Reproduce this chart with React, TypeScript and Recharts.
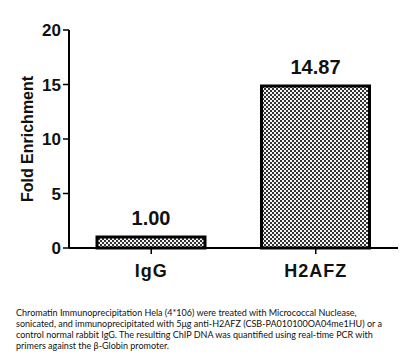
import React from "react";
import { Bar, BarChart, LabelList, XAxis, YAxis } from "recharts";

const categories = ["IgG", "H2AFZ"];
const foldEnrichment = [1.0, 14.87];
const yTicks = [0, 5, 10, 15, 20];
const captionLines = [
  "Chromatin Immunoprecipitation Hela (4*106) were treated with Micrococcal Nuclease,",
  "sonicated, and immunoprecipitated with 5\u03bcg anti-H2AFZ (CSB-PA010100OA04me1HU) or a",
  "control normal rabbit IgG. The resulting ChIP DNA was quantified using real-time PCR with",
  "primers against the \u03b2-Globin promoter.",
];

const AXIS_FONT = "'Liberation Sans', Arial, sans-serif";

const data = categories.map((name, i) => ({ name, value: foldEnrichment[i] }));

export default function App() {
  return (
    <div style={{ position: "absolute", left: 0, top: 0, width: 409, height: 360, background: "#fff" }}>
      <BarChart width={409} height={290} data={data} margin={{ top: 30, right: 11, left: 19, bottom: 12 }}>
        <defs>
          <pattern id="checker" width="4" height="4" patternUnits="userSpaceOnUse">
            <rect width="4" height="4" fill="#f4f4f4" />
            <rect x="0" y="0" width="2" height="2" fill="#333" />
            <rect x="2" y="2" width="2" height="2" fill="#333" />
          </pattern>
        </defs>
        <XAxis
          dataKey="name"
          axisLine={{ stroke: "#000", strokeWidth: 2 }}
          tickLine={{ stroke: "#000", strokeWidth: 1.5 }}
          tickSize={6}
          height={30}
          tick={{ fill: "#111", fontSize: 18, fontWeight: 700, fontFamily: AXIS_FONT, letterSpacing: 1, dy: 8 }}
        />
        <YAxis
          domain={[0, 20]}
          ticks={yTicks}
          width={50}
          axisLine={{ stroke: "#000", strokeWidth: 2 }}
          tickLine={{ stroke: "#000", strokeWidth: 1.5 }}
          tickSize={6}
          tick={{ fill: "#111", fontSize: 17, fontWeight: 700, fontFamily: AXIS_FONT }}
          label={{
            value: "Fold Enrichment",
            angle: -90,
            position: "insideLeft",
            offset: 0,
            dx: 8,
            style: { fill: "#111", fontSize: 16, fontWeight: 700, fontFamily: AXIS_FONT, textAnchor: "middle" },
          }}
        />
        <Bar dataKey="value" fill="url(#checker)" stroke="#000" strokeWidth={3} barSize={108} isAnimationActive={false}>
          <LabelList
            dataKey="value"
            position="top"
            offset={12}
            formatter={(v: number) => v.toFixed(2)}
            style={{ fill: "#111", fontSize: 20, fontWeight: 700, fontFamily: AXIS_FONT }}
          />
        </Bar>
      </BarChart>
      <div
        style={{
          position: "absolute",
          left: 16,
          top: 307,
          fontFamily: "Lato, 'Open Sans', sans-serif",
          fontSize: 9,
          lineHeight: "11px",
          color: "#111",
        }}
      >
        {captionLines.map((line) => (
          <div key={line} style={{ whiteSpace: "nowrap" }}>
            {line}
          </div>
        ))}
      </div>
    </div>
  );
}
